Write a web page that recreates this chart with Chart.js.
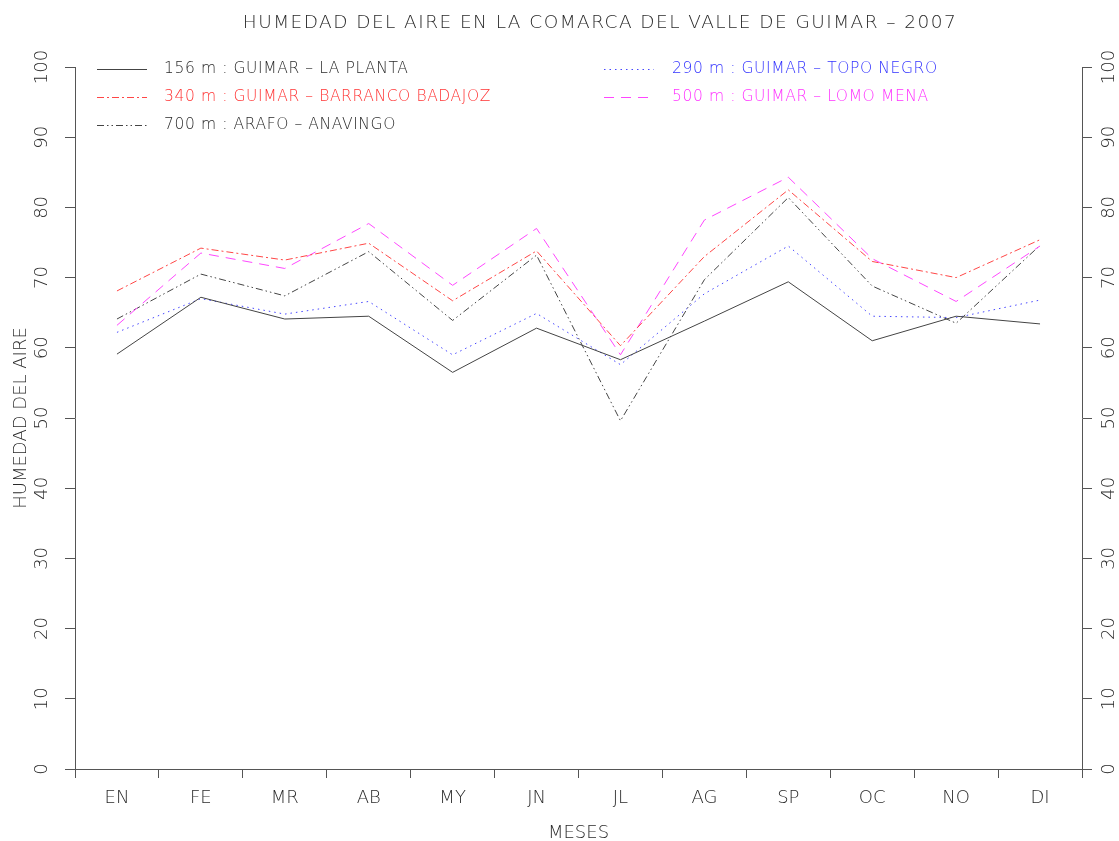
<!DOCTYPE html>
<html>
<head>
<meta charset="utf-8">
<title>Humedad del aire - Valle de Guimar 2007</title>
<script src="https://cdn.jsdelivr.net/npm/chart.js@4/dist/chart.umd.min.js"></script>
<style>
  html, body { margin: 0; padding: 0; background: #fff; }
  canvas { display: block; }
</style>
</head>
<body>
<canvas id="humChart" width="1119" height="841"></canvas>
<script>
// months (x categories)
const meses = ['EN', 'FE', 'MR', 'AB', 'MY', 'JN', 'JL', 'AG', 'SP', 'OC', 'NO', 'DI'];
const yTicks = [0, 10, 20, 30, 40, 50, 60, 70, 80, 90, 100];

// relative humidity (%) per station
const laPlanta156   = [59.1, 67.2, 64.1, 64.5, 56.5, 62.8, 58.3, 63.8, 69.4, 61.0, 64.5, 63.4];
const topoNegro290  = [62.2, 67.0, 64.8, 66.6, 59.0, 64.9, 57.6, 67.7, 74.5, 64.5, 64.3, 66.8];
const badajoz340    = [68.1, 74.2, 72.5, 74.9, 66.7, 73.8, 60.3, 73.0, 82.5, 72.3, 70.0, 75.4];
const lomoMena500   = [63.2, 73.5, 71.3, 77.7, 68.9, 77.0, 59.0, 78.2, 84.3, 72.7, 66.6, 74.5];
const anavingo700   = [64.1, 70.5, 67.4, 73.7, 63.9, 73.2, 49.6, 69.7, 81.4, 68.8, 63.5, 74.6];

const FONT = "'DejaVu Sans', 'Liberation Sans', sans-serif";
const AXIS = '#555';
const TXT = '#2a2a2a';

function line(label, data, color, dash, textColor) {
    return {
        label: label,
        data: data,
        borderColor: color,
        borderWidth: 1,
        borderDash: dash,
        pointRadius: 0,
        tension: 0,
        fill: false,
        textColor: textColor
    };
}

// title + two-column legend drawn on top of the plot
const overlay = {
    id: 'overlay',
    afterDraw(chart) {
        const ctx = chart.ctx;
        ctx.save();
        ctx.fillStyle = TXT;
        ctx.font = '200 18.5px ' + FONT;
        ctx.textAlign = 'center';
        ctx.textBaseline = 'middle';
        ctx.letterSpacing = '1.45px';
        ctx.fillText('HUMEDAD DEL AIRE EN LA COMARCA DEL VALLE DE GUIMAR \u2013 2007', 600, 23);

        // legend slots: [lineX, textX, y]
        const slots = [[97, 164, 69], [604, 672, 69], [97, 164, 97], [604, 672, 97], [97, 164, 125]];
        ctx.font = '200 15.5px ' + FONT;
        ctx.textAlign = 'left';
        ctx.letterSpacing = '0.6px';
        chart.data.datasets.forEach((ds, i) => {
            const s = slots[i];
            ctx.beginPath();
            ctx.strokeStyle = ds.borderColor;
            ctx.lineWidth = 1;
            ctx.setLineDash(ds.borderDash || []);
            ctx.moveTo(s[0], s[2] + 0.5);
            ctx.lineTo(s[0] + 50, s[2] + 0.5);
            ctx.stroke();
            ctx.fillStyle = ds.textColor;
            ctx.fillText(ds.label, s[1], s[2]);
        });
        ctx.restore();
    }
};

const ctx = document.getElementById('humChart').getContext('2d');
const chart = new Chart(ctx, {
    type: 'line',
    data: {
        labels: meses,
        datasets: [
            line('156 m : GUIMAR \u2013 LA PLANTA', laPlanta156, '#444', [], TXT),
            line('290 m : GUIMAR \u2013 TOPO NEGRO', topoNegro290, 'rgb(70,70,255)', [1.5, 4], 'rgb(50,50,255)'),
            line('340 m : GUIMAR \u2013 BARRANCO BADAJOZ', badajoz340, 'rgb(255,70,70)', [7, 3, 2, 3], 'rgb(255,50,50)'),
            line('500 m : GUIMAR \u2013 LOMO MENA', lomoMena500, 'rgb(255,70,255)', [10, 7], 'rgb(255,50,255)'),
            line('700 m : ARAFO \u2013 ANAVINGO', anavingo700, '#444', [7, 3, 1.5, 3, 1.5, 3], TXT)
        ]
    },
    options: {
        responsive: false,
        animation: false,
        layout: { padding: { top: 67, left: 0, right: 0, bottom: 0 } },
        plugins: {
            legend: { display: false },
            title: { display: false },
            tooltip: { enabled: false }
        },
        scales: {
            x: {
                offset: true,
                afterFit(scale) { scale.height = 72; },
                grid: { offset: true, drawOnChartArea: false, drawTicks: true, tickLength: 9, color: AXIS },
                border: { display: true, color: AXIS, width: 1 },
                ticks: { color: TXT, padding: 10, maxRotation: 0, font: { family: FONT, weight: '200', size: 18 } },
                title: { display: true, text: 'MESES', color: TXT, padding: { top: 0, bottom: -3 },
                         font: { family: FONT, weight: '200', size: 18 } }
            },
            y: {
                position: 'left',
                min: 0,
                max: 100,
                afterFit(scale) { scale.width = 75; },
                afterBuildTicks(scale) { scale.ticks = yTicks.map(v => ({ value: v })); },
                grid: { drawOnChartArea: false, tickLength: 10, color: AXIS },
                border: { display: true, color: AXIS, width: 1 },
                ticks: { color: TXT, padding: 5, minRotation: 90, maxRotation: 90, crossAlign: 'center',
                         font: { family: FONT, weight: '200', size: 18 } },
                title: { display: true, text: 'HUMEDAD DEL AIRE', color: TXT, padding: { top: 11, bottom: 0 },
                         font: { family: FONT, weight: '200', size: 18 } }
            },
            y2: {
                position: 'right',
                min: 0,
                max: 100,
                afterFit(scale) { scale.width = 37; },
                afterBuildTicks(scale) { scale.ticks = yTicks.map(v => ({ value: v })); },
                grid: { drawOnChartArea: false, tickLength: 10, color: AXIS },
                border: { display: true, color: AXIS, width: 1 },
                ticks: { color: TXT, padding: 0, minRotation: 90, maxRotation: 90, crossAlign: 'center',
                         font: { family: FONT, weight: '200', size: 18 } }
            }
        }
    },
    plugins: [overlay]
});
</script>
</body>
</html>
